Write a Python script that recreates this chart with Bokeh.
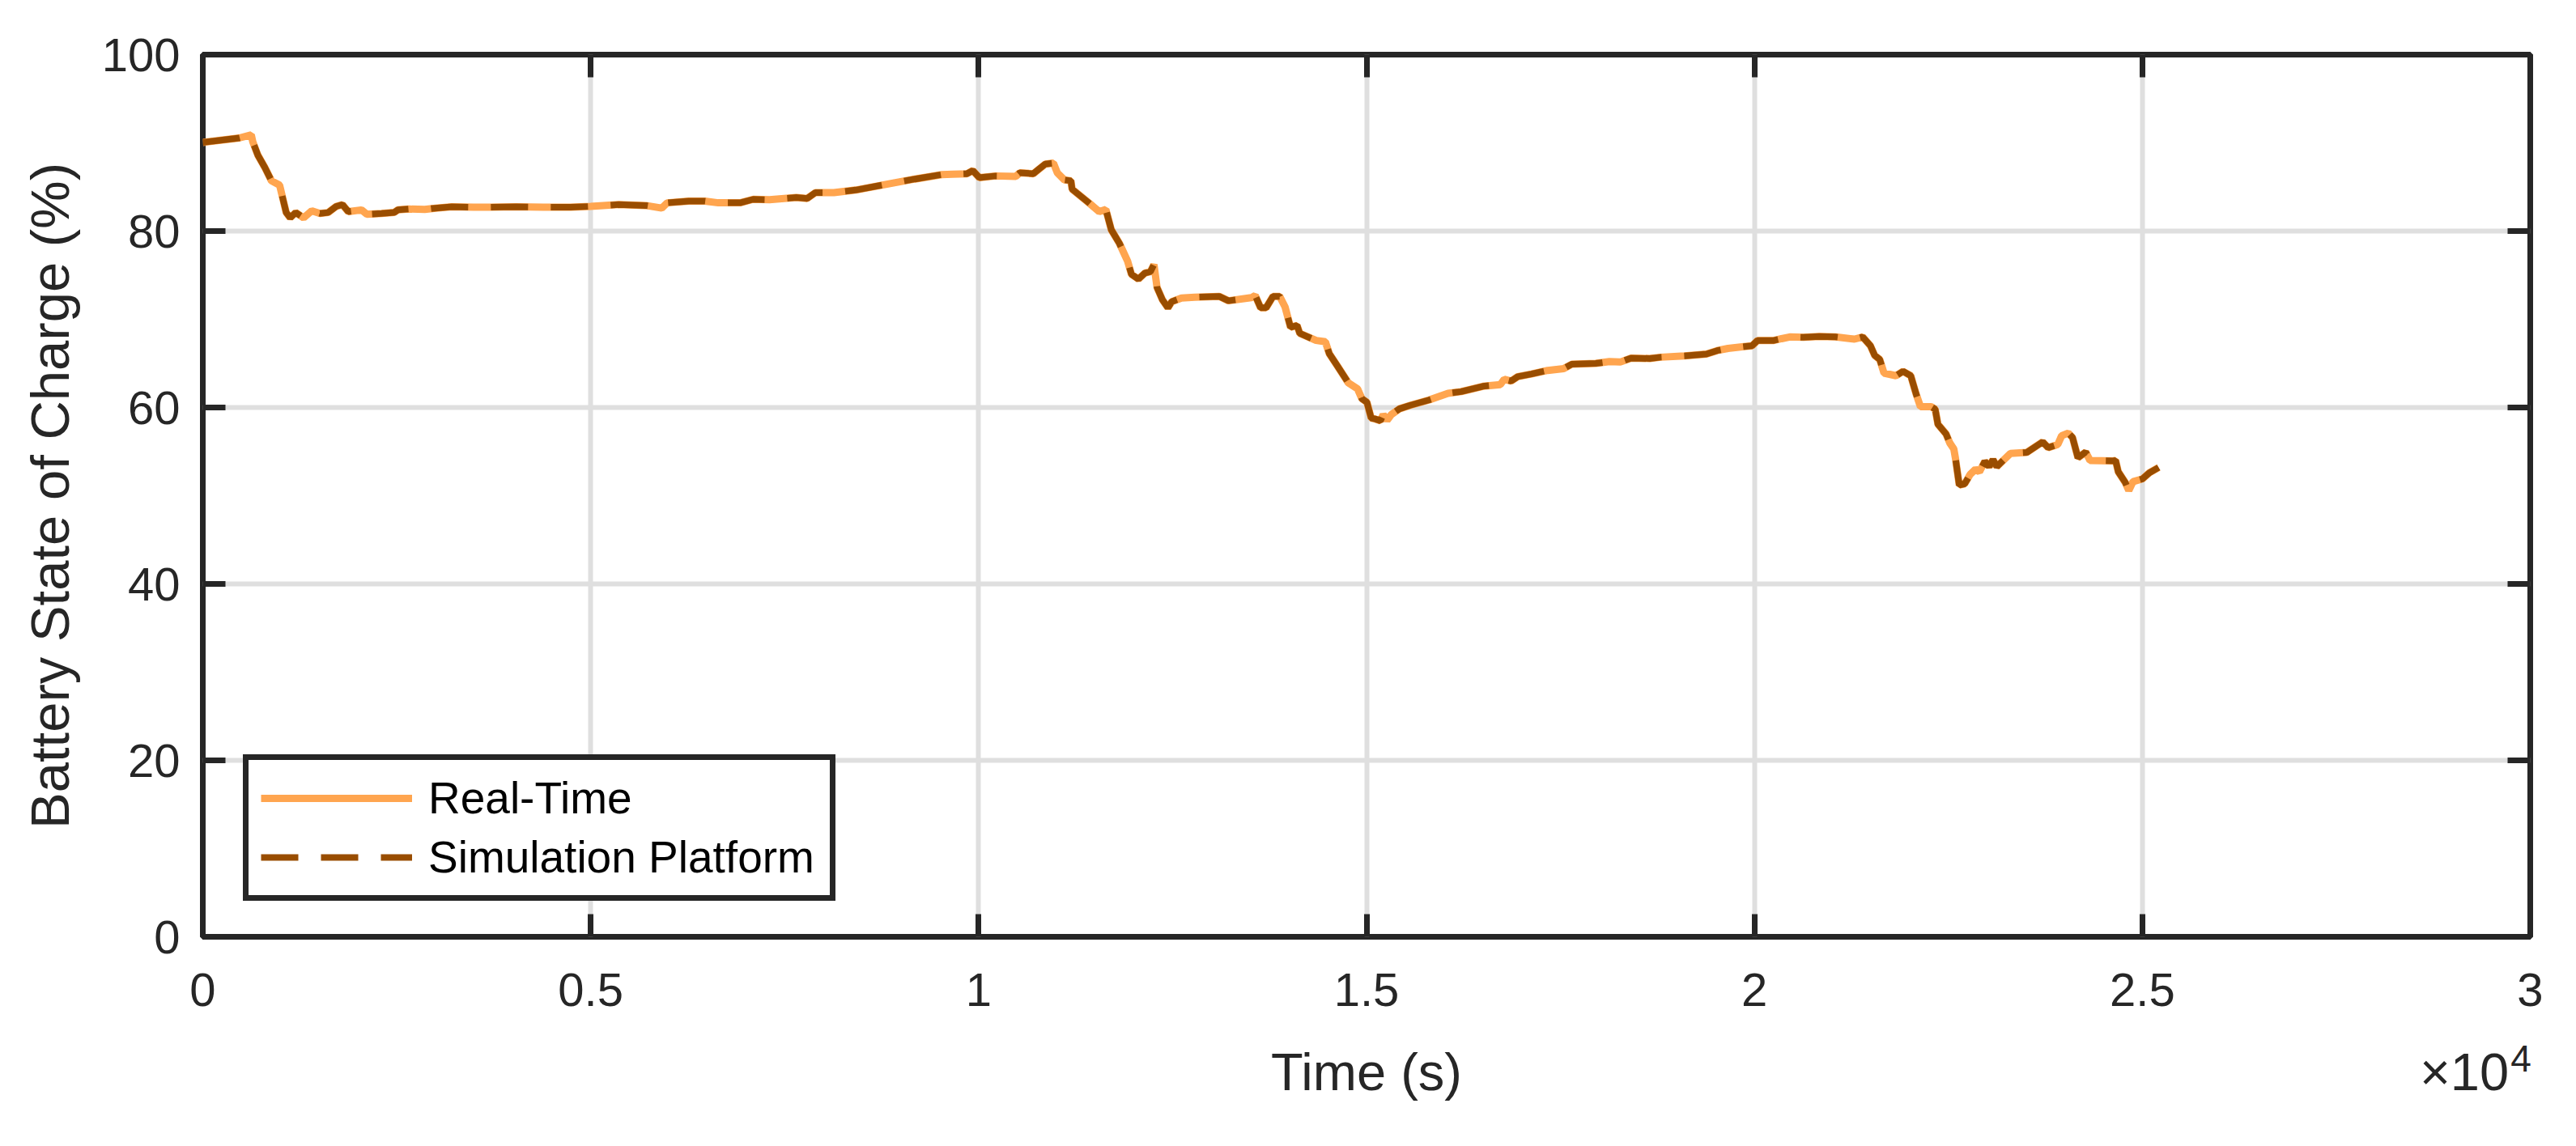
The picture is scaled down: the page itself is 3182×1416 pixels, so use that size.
from bokeh.plotting import figure
from bokeh.models import Range1d, FixedTicker, LinearAxis, Legend, LegendItem
from bokeh.embed import file_html
from bokeh.resources import INLINE

# ---- data ----
time_s = [0, 470, 625, 645, 710, 800, 885, 990, 1075, 1127, 1197, 1300, 1405, 1510, 1615, 1720, 1800, 1875,
          2045, 2115, 2305, 2465, 2515, 2655, 2860, 3000, 3210, 3490, 3700, 4040, 4390, 4740, 5000, 5360,
          5710, 5915, 5985, 6265, 6470, 6645, 6925, 7095, 7305, 7650, 7790, 7895, 8135, 8415, 8900, 9180,
          9525, 9665, 9850, 9925, 10010, 10220, 10480, 10530, 10705, 10775, 10860, 10965, 11015, 11105,
          11190, 11205, 11435, 11555, 11640, 11710, 11815, 11920, 11970, 12060, 12145, 12215, 12260, 12300,
          12370, 12440, 12490, 12615, 12785, 13100, 13220, 13515, 13565, 13635, 13705, 13795, 13880, 13950,
          14020, 14105, 14140, 14350, 14470, 14520, 14625, 14765, 14885, 14940, 15005, 15060, 15110, 15180,
          15215, 15265, 15320, 15425, 15565, 15805, 16050, 16220, 16500, 16725, 16775, 16865, 16950, 17125,
          17335, 17540, 17645, 17955, 18130, 18270, 18410, 18650, 18790, 19100, 19380, 19520, 19660, 19865,
          19970, 20040, 20250, 20350, 20455, 20630, 20835, 21045, 21290, 21395, 21495, 21550, 21615, 21670,
          21825, 21915, 22015, 22085, 22140, 22275, 22330, 22365, 22470, 22520, 22570, 22590, 22640, 22710,
          22780, 22850, 22900, 22970, 23025, 23075, 23125, 23300, 23510, 23715, 23785, 23910, 23960, 24045,
          24100, 24170, 24270, 24325, 24620, 24655, 24690, 24780, 24825, 24880, 25000, 25090, 25210]

soc_real_time = [90.05, 90.55, 90.9, 90.1, 88.6, 87.2, 85.7, 85.2, 82.1, 81.5, 82.1, 81.5, 82.3, 82.0, 82.1,
                 82.8, 83.0, 82.2, 82.4, 81.9, 82.0, 82.1, 82.4, 82.5, 82.45, 82.6, 82.75, 82.7, 82.7, 82.75,
                 82.7, 82.7, 82.8, 83.0, 82.9, 82.6, 83.2, 83.4, 83.4, 83.2, 83.2, 83.6, 83.55, 83.8, 83.7,
                 84.35, 84.35, 84.65, 85.45, 85.9, 86.4, 86.45, 86.5, 86.85, 86.05, 86.25, 86.2, 86.6, 86.5,
                 87.0, 87.6, 87.7, 86.6, 85.8, 85.7, 84.75, 83.1, 82.2, 82.45, 80.15, 78.6, 76.6, 75.1, 74.55,
                 75.25, 75.4, 76.2, 73.6, 72.2, 71.3, 72.0, 72.4, 72.5, 72.6, 72.1, 72.45, 72.7, 71.3, 71.3,
                 72.6, 72.6, 71.4, 69.1, 69.3, 68.4, 67.6, 67.45, 66.1, 64.7, 62.8, 62.1, 61.0, 60.6, 58.8,
                 58.7, 58.5, 59.2, 58.55, 59.2, 59.85, 60.25, 60.85, 61.6, 61.8, 62.4, 62.6, 63.2, 63.0, 63.5,
                 63.8, 64.2, 64.4, 64.9, 65.0, 65.2, 65.15, 65.6, 65.55, 65.7, 65.85, 66.05, 66.45, 66.7,
                 66.9, 67.0, 67.6, 67.6, 67.8, 68.0, 67.95, 68.05, 68.0, 67.75, 68.0, 67.0, 65.9, 65.45, 63.9,
                 63.6, 64.1, 63.6, 61.5, 60.1, 60.1, 59.8, 58.1, 57.0, 55.95, 55.3, 54.3, 51.2, 51.35, 52.4,
                 53.0, 52.7, 53.9, 53.3, 54.1, 53.3, 54.8, 54.9, 56.1, 55.45, 55.8, 56.8, 57.1, 56.6, 54.3,
                 54.95, 54.0, 53.95, 54.0, 52.7, 51.5, 50.6, 51.6, 51.9, 52.6, 53.2]

# The simulation trace lies on top of the real-time trace in the picture
soc_simulation = list(soc_real_time)

x_ticks = [0, 5000, 10000, 15000, 20000, 25000, 30000]
x_tick_labels = ["0", "0.5", "1", "1.5", "2", "2.5", "3"]
y_ticks = [0, 20, 40, 60, 80, 100]
x_title = "Time (s)"
y_title = "Battery State of Charge (%)"
x_exponent_base = "×10"
x_exponent_power = "4"

# ---- styling ----
FONT = "Liberation Sans"
TXT = "#262626"
ORANGE = "#FFA54F"
BROWN = "#994D00"

p = figure(width=3166, height=1400, output_backend="svg", toolbar_location=None,
           x_range=Range1d(0, 30000), y_range=Range1d(0, 100),
           min_border_left=250, min_border_right=41, min_border_top=67, min_border_bottom=243)
p.background_fill_color = "white"
p.border_fill_color = "white"
p.outline_line_color = TXT
p.outline_line_width = 7

l1 = p.line(time_s, soc_real_time, line_color=ORANGE, line_width=9)
l2 = p.line(time_s, soc_simulation, line_color=BROWN, line_width=8, line_dash="46 28")

xt = FixedTicker(ticks=x_ticks)
yt = FixedTicker(ticks=y_ticks)

xax = p.xaxis[0]
yax = p.yaxis[0]
for ax in [xax, yax]:
    ax.axis_line_color = None
    ax.major_tick_in = 28
    ax.major_tick_out = 0
    ax.major_tick_line_color = TXT
    ax.major_tick_line_width = 7
    ax.minor_tick_line_color = None
    ax.major_label_text_font = FONT
    ax.major_label_text_font_size = "58px"
    ax.major_label_text_color = TXT
    ax.axis_label_text_font = FONT
    ax.axis_label_text_font_size = "67px"
    ax.axis_label_text_font_style = "normal"
    ax.axis_label_text_color = TXT

xax.ticker = xt
xax.major_label_overrides = {t: s for t, s in zip(x_ticks, x_tick_labels)}
xax.major_label_standoff = 45
yax.ticker = yt
yax.major_label_standoff = 28
yax.axis_label = y_title
yax.axis_label_standoff = 24

# mirrored tick marks on the top and right edges
top_ax = LinearAxis(ticker=xt)
right_ax = LinearAxis(ticker=yt)
for ax in [top_ax, right_ax]:
    ax.axis_line_color = None
    ax.major_tick_in = 28
    ax.major_tick_out = 0
    ax.major_tick_line_color = TXT
    ax.major_tick_line_width = 7
    ax.minor_tick_line_color = None
    ax.major_label_text_font_size = "0px"
    ax.major_label_text_color = None
p.add_layout(top_ax, "above")
p.add_layout(right_ax, "right")

# helper text rows under the x axis: exponent power, then "Time (s)" and "x10"
pow_pos = 29880
base_pos = 29150
power_ax = LinearAxis(ticker=FixedTicker(ticks=[pow_pos]),
                      major_label_overrides={pow_pos: x_exponent_power})
title_ax = LinearAxis(ticker=FixedTicker(ticks=[15000, base_pos]),
                      major_label_overrides={15000: x_title, base_pos: x_exponent_base})
for ax, fs, so in [(power_ax, "46px", 46), (title_ax, "65px", -39)]:
    ax.axis_line_color = None
    ax.major_tick_line_color = None
    ax.minor_tick_line_color = None
    ax.major_tick_in = 0
    ax.major_tick_out = 0
    ax.major_label_text_font = FONT
    ax.major_label_text_font_size = fs
    ax.major_label_text_color = TXT
    ax.major_label_standoff = so
p.add_layout(power_ax, "below")
p.add_layout(title_ax, "below")

for g in [p.xgrid[0], p.ygrid[0]]:
    g.grid_line_color = "#DFDFDF"
    g.grid_line_width = 6
p.xgrid[0].ticker = xt
p.ygrid[0].ticker = yt

legend = Legend(items=[LegendItem(label="Real-Time", renderers=[l1]),
                       LegendItem(label="Simulation Platform", renderers=[l2])],
                location=(50, 44), margin=0, padding=15, spacing=9,
                glyph_width=187, glyph_height=50, label_height=50, label_standoff=20,
                label_width=481,
                label_text_font=FONT, label_text_font_size="55px", label_text_color="black",
                border_line_color=TXT, border_line_width=7, border_line_alpha=1.0,
                background_fill_color="white", background_fill_alpha=1.0)
p.add_layout(legend, "center")

open("out.html", "w").write(file_html(p, INLINE))
